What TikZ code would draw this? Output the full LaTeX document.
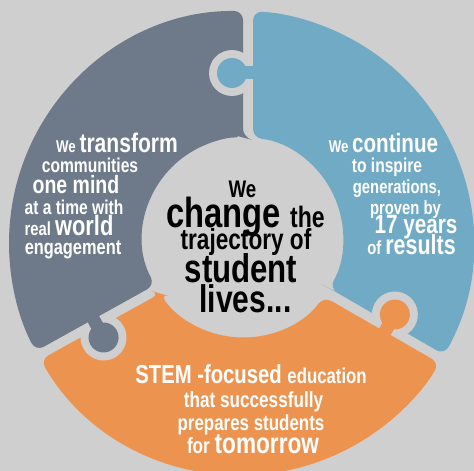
\documentclass[tikz,border=0pt]{standalone}
\usepackage{fontspec}
\setmainfont{Liberation Sans}[FakeStretch=0.78]
\usepackage{tikz}
\usepackage{xcolor}
\definecolor{bggray}{HTML}{CFCFCF}
\definecolor{slate}{HTML}{6E7A8A}
\definecolor{skyblue}{HTML}{71AAC4}
\definecolor{tangerine}{HTML}{EC944F}
\newcommand{\fsz}[1]{\fontsize{#1}{#1}\selectfont}

\begin{document}
\begin{tikzpicture}[x=1pt,y=1pt,font=\bfseries]
\tikzstyle{every node}+=[inner sep=0pt]
\tikzstyle{wtxt}=[text=white, anchor=base]
\tikzstyle{btxt}=[text=black, anchor=base]
\fill [bggray] (-241,-228) rectangle (233,243);
\useasboundingbox (-241,-228) rectangle (233,243);
\node [circle, fill=bggray, minimum size=200] (hub) at (2,5.5) {};
\fill [slate, rounded corners=9] (2,105.5) -- (89.5:232) arc [start angle=89.5, end angle=207.8, radius=232] -- (-86.0,-41.97) arc [start angle=208.34, end angle=90, radius=100] -- cycle;
\fill [skyblue, rounded corners=9] (88.22,-45.16) -- (-28.8:232) arc [start angle=-28.8, end angle=87.0, radius=232] -- (12,105) arc [start angle=84.26, end angle=-30.44, radius=100] -- cycle;
\fill [tangerine, rounded corners=9] (-80.83,-50.52) -- (210.2:232) arc [start angle=210.2, end angle=328.8, radius=232] -- (82.71,-53.53) arc [start angle=323.82, end angle=214.07, radius=100] -- cycle;
\begin{scope}[rotate=90]
\begin{scope}
\clip (100,-7) rectangle (240,60);
\fill [bggray] (170,9) circle [radius=23];
\end{scope}
\fill [skyblue] (163.5,-15) rectangle (176.5,0);
\fill [skyblue] (170,9) circle [radius=15];
\end{scope}
\begin{scope}[rotate=209]
\begin{scope}
\clip (100,0) rectangle (240,60);
\fill [bggray] (166,16) circle [radius=23];
\end{scope}
\fill [slate] (159.5,-8) rectangle (172.5,6);
\fill [slate] (166,16) circle [radius=15];
\end{scope}
\begin{scope}[rotate=330]
\begin{scope}
\clip (100,0) rectangle (240,60);
\fill [bggray] (169,15) circle [radius=23];
\end{scope}
\fill [tangerine] (162.5,-8) rectangle (175.5,5);
\fill [tangerine] (169,15) circle [radius=15];
\end{scope}
\node [wtxt] (lt1) at (-124,90) {\fsz{17}We \fsz{27}transform};
\node [wtxt] (lt2) at (-151,70) {\fsz{20}communities};
\node [wtxt] (lt3) at (-165,49) {\fsz{25}one mind};
\node [wtxt] (lt4) at (-167,28) {\fsz{20}at a time with};
\node [wtxt] (lt5) at (-172,7) {\fsz{19}real \fsz{28}world};
\node [wtxt] (lt6) at (-168,-12) {\fsz{21}engagement};
\node [wtxt] (rt1) at (142.5,90) {\fsz{17}We \fsz{26.5}continue};
\node [wtxt] (rt2) at (146,70) {\fsz{20}to inspire};
\node [wtxt] (rt3) at (156,49) {\fsz{19}generations,};
\node [wtxt] (rt4) at (164.5,28) {\fsz{19}proven by};
\node [wtxt] (rt5) at (175,9) {\fsz{26.5}17 years};
\node [wtxt] (rt6) at (170.5,-12) {\fsz{19}of \fsz{27.5}results};
\node [btxt] (ct1) at (1.5,45) {\fsz{24}We};
\node [btxt] (ct2) at (4.5,15) {\fsz{42}change \fsz{29.5}the};
\node [btxt] (ct3) at (5,-7) {\fsz{29}trajectory of};
\node [btxt] (ct4) at (0,-40) {\fsz{40}student};
\node [btxt] (ct5) at (4.5,-70) {\fsz{38.5}lives...};
\node [wtxt] (bt1) at (10,-140) {\fsz{26}STEM -focused \fsz{21.5}education};
\node [wtxt] (bt2) at (12.5,-164) {\fsz{22}that successfully};
\node [wtxt] (bt3) at (10,-187) {\fsz{21.7}prepares students};
\node [wtxt] (bt4) at (12,-210) {\fsz{22}for \fsz{29}tomorrow};
\end{tikzpicture}
\end{document}
